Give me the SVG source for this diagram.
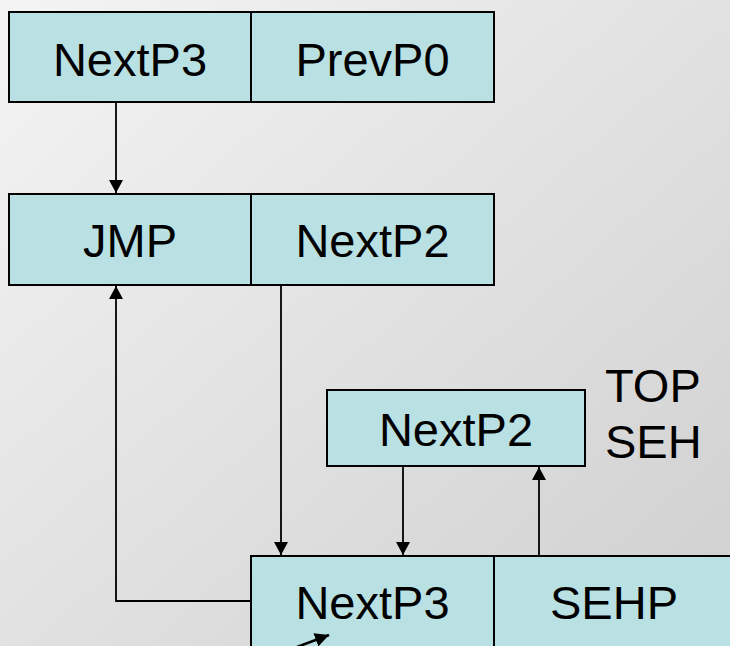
<svg xmlns="http://www.w3.org/2000/svg" width="730" height="646" viewBox="0 0 730 646">
  <defs>
    <linearGradient id="bg" x1="0" y1="0" x2="1" y2="1">
      <stop offset="0" stop-color="#f4f4f4"/>
      <stop offset="1" stop-color="#cfcfcf"/>
    </linearGradient>
    <marker id="arrow" viewBox="0 0 13 14" refX="13" refY="7" markerWidth="13" markerHeight="14" markerUnits="userSpaceOnUse" orient="auto">
      <path d="M0,0 L13,7 L0,14 Z" fill="#000"/>
    </marker>
    <marker id="arrowBig" viewBox="0 0 10 10" refX="10" refY="5" markerWidth="14" markerHeight="14" markerUnits="userSpaceOnUse" orient="auto">
      <path d="M0,0 L10,5 L0,10 Z" fill="#000"/>
    </marker>
  </defs>
  <style>
    .cell { fill: #b9e0e3; stroke: #000; stroke-width: 2; }
    .lbl { font-family: "Liberation Sans", Arial, sans-serif; font-size: 47px; fill: #000; text-anchor: middle; }
    .note { font-family: "Liberation Sans", Arial, sans-serif; font-size: 47px; fill: #000; }
    .wire { fill: none; stroke: #000; stroke-width: 1.8; }
  </style>

  <rect width="730" height="646" fill="url(#bg)"/>

  <!-- first frame -->
  <g id="frame1">
    <rect class="cell" x="9" y="12" width="242" height="90"/>
    <rect class="cell" x="251" y="12" width="243" height="90"/>
    <text class="lbl" x="130" y="76">NextP3</text>
    <text class="lbl" x="372.5" y="76">PrevP0</text>
  </g>

  <!-- second frame -->
  <g id="frame2">
    <rect class="cell" x="9" y="194" width="242" height="91"/>
    <rect class="cell" x="251" y="194" width="243" height="91"/>
    <text class="lbl" x="130" y="257">JMP</text>
    <text class="lbl" x="372.5" y="257">NextP2</text>
  </g>

  <!-- top SEH record -->
  <g id="topSeh">
    <rect class="cell" x="327" y="390" width="258" height="76"/>
    <text class="lbl" x="456" y="446">NextP2</text>
    <text class="note" x="605" y="402">TOP</text>
    <text class="note" x="605" y="458">SEH</text>
  </g>

  <!-- third frame -->
  <g id="frame3">
    <rect class="cell" x="251" y="556" width="243" height="100"/>
    <rect class="cell" x="494" y="556" width="250" height="100"/>
    <text class="lbl" x="372.5" y="619">NextP3</text>
    <text class="lbl" x="614" y="619">SEHP</text>
  </g>

  <!-- connectors -->
  <g id="connectors">
    <line class="wire" x1="116" y1="102" x2="116" y2="193" marker-end="url(#arrow)"/>
    <polyline class="wire" points="251,601 116,601 116,286" marker-end="url(#arrow)"/>
    <line class="wire" x1="281" y1="285" x2="281" y2="555" marker-end="url(#arrow)"/>
    <line class="wire" x1="403" y1="466" x2="403" y2="555" marker-end="url(#arrow)"/>
    <line class="wire" x1="539" y1="556" x2="539" y2="467" marker-end="url(#arrow)"/>
    <line x1="297" y1="647" x2="329" y2="635" stroke="#000" stroke-width="2.5" marker-end="url(#arrowBig)"/>
  </g>
</svg>
